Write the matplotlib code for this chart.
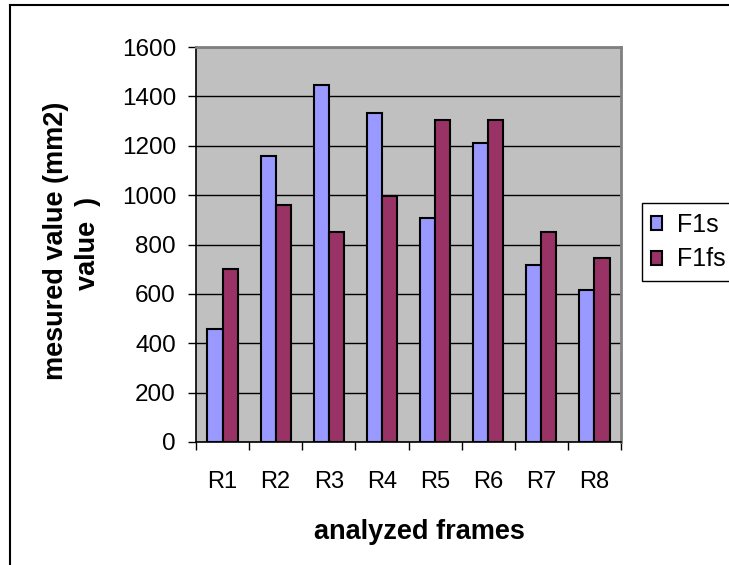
import numpy as np
import matplotlib
matplotlib.use("Agg")
import matplotlib.pyplot as plt
from matplotlib.lines import Line2D

plt.rcParams['font.family'] = ['Liberation Sans', 'DejaVu Sans']

categories = ["R1", "R2", "R3", "R4", "R5", "R6", "R7", "R8"]
f1s = [458, 1157, 1447, 1334, 906, 1210, 717, 616]
f1fs = [701, 960, 852, 998, 1303, 1303, 852, 746]
series_names = ["F1s", "F1fs"]
y_ticks = [0, 200, 400, 600, 800, 1000, 1200, 1400, 1600]

W, H = 729, 565
fig = plt.figure(figsize=(W / 100, H / 100), dpi=100)
ax = fig.add_axes([196 / W, 1 - 442 / H, 425 / W, 395 / H])

x = np.arange(len(categories))
w = 1 / 3.5
ax.bar(x - w / 2, f1s, w, color="#9999FF", edgecolor="black", linewidth=1.5,
       label=series_names[0], zorder=3)
ax.bar(x + w / 2, f1fs, w, color="#993366", edgecolor="black", linewidth=1.5,
       label=series_names[1], zorder=3)

ax.set_xlim(-0.5, len(categories) - 0.5)
ax.set_ylim(0, 1600)
ax.set_facecolor("#C0C0C0")
ax.set_yticks(y_ticks)
ax.yaxis.grid(True, color="black", linewidth=1, zorder=0)
ax.set_axisbelow(True)

for side in ("top", "right"):
    ax.spines[side].set_color("#808080")
    ax.spines[side].set_linewidth(2)
for side in ("left", "bottom"):
    ax.spines[side].set_color("black")
    ax.spines[side].set_linewidth(1.2)

# category boundaries carry the ticks, centres carry the labels
ax.set_xticks(np.arange(-0.5, len(categories), 1))
ax.set_xticklabels([])
ax.set_xticks(x, minor=True)
ax.set_xticklabels(categories, minor=True)
ax.tick_params(axis="x", which="major", direction="out", length=5.5, width=1, color="black")
ax.tick_params(axis="x", which="minor", length=0, pad=21, labelsize=17)
ax.tick_params(axis="y", direction="out", length=5.8, width=1, pad=8.6, labelsize=17.5)

# axis titles
fig.text(56 / W, 1 - 241 / H, "mesured value (mm2)", rotation=90, ha="center",
         va="center", fontsize=19.5, fontweight="bold")
fig.text(88 / W, 1 - 243 / H, "value  )", rotation=90, ha="center",
         va="center", fontsize=19.5, fontweight="bold")
fig.text(419 / W, 1 - 532 / H, "analyzed frames", ha="center", va="center",
         fontsize=19.5, fontweight="bold")

leg = fig.legend(loc="upper left", bbox_to_anchor=(641.7 / W, 1 - 203 / H),
                 fontsize=18, frameon=True, fancybox=False, shadow=False,
                 handlelength=0.44, handleheight=0.48, handletextpad=0.6,
                 borderpad=0.38, labelspacing=0.44, borderaxespad=0)
leg.get_frame().set_edgecolor("black")
leg.get_frame().set_linewidth(1)
leg.get_frame().set_alpha(1)

# outer chart frame
fig.add_artist(Line2D([10 / W, 10 / W], [0, 1 - 5 / H], transform=fig.transFigure,
                      color="black", linewidth=1.5))
fig.add_artist(Line2D([10 / W, 1], [1 - 5 / H, 1 - 5 / H], transform=fig.transFigure,
                      color="black", linewidth=1.5))

fig.savefig("out.png", dpi=100)
